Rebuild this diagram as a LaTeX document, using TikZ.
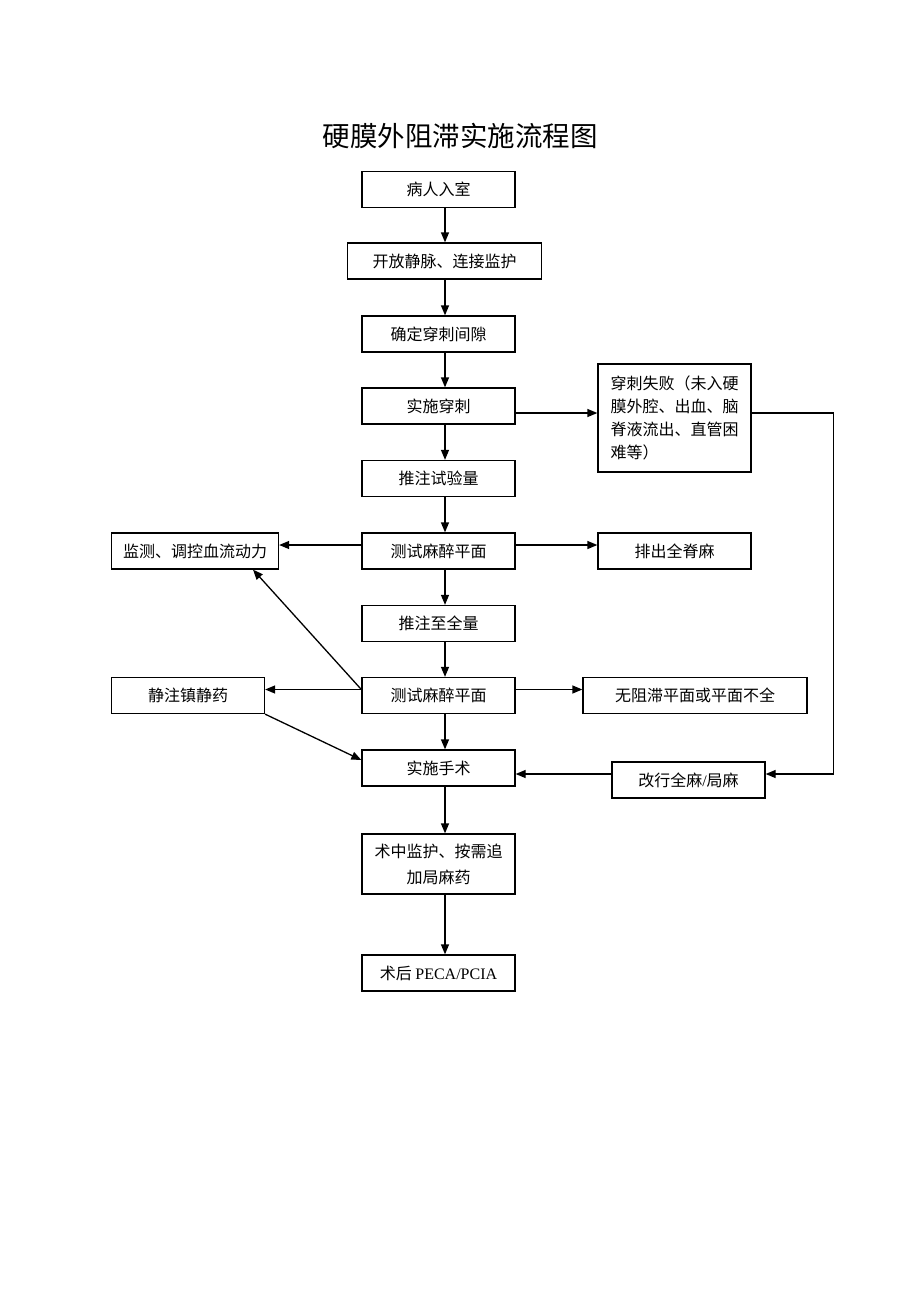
\documentclass[tikz,border=0pt]{standalone}
\usepackage{fontspec}
\setmainfont{Liberation Serif}
\newfontfamily\cjk{Noto Sans CJK SC}
\usetikzlibrary{arrows.meta}

\begin{document}
\begin{tikzpicture}[x=1pt,y=-1pt,
        box/.style={draw,line width=1.3pt,minimum width=153pt,minimum height=36pt,inner sep=0pt,
          font=\cjk\fontsize{16}{22}\selectfont},
        arr/.style={-{Triangle[length=10pt,width=8pt]},line width=1.3pt}]
        \useasboundingbox (0,0) rectangle (920,1302);
        \node (title) at (460,136) {\cjk\fontsize{27.5}{30}\selectfont 硬膜外阻滞实施流程图};
        % main column
        \node[box] (start) at (438.5,189.5) {病人入室};
        \node[box,minimum width=194pt] (iv) at (444.5,261) {开放静脉、连接监护};
        \node[box] (gap) at (438.5,334) {确定穿刺间隙};
        \node[box] (punct) at (438.5,406) {实施穿刺};
        \node[box] (test) at (438.5,478.5) {推注试验量};
        \node[box] (lvl1) at (438.5,551) {测试麻醉平面};
        \node[box] (full) at (438.5,623.5) {推注至全量};
        \node[box] (lvl2) at (438.5,695.5) {测试麻醉平面};
        \node[box] (surg) at (438.5,768) {实施手术};
        \node[box,minimum height=60pt,align=center,font=\cjk\fontsize{16}{26}\selectfont] (intra) at (438.5,864) {术中监护、按需追\\加局麻药};
        \node[box] (post) at (438.5,973) {术后 {\rmfamily PECA/PCIA}};
        % side boxes
        \node[box,minimum height=108pt,align=left,font=\cjk\fontsize{16}{23}\selectfont] (fail) at (674.5,418) {穿刺失败（未入硬\\膜外腔、出血、脑\\脊液流出、直管困\\难等）};
        \node[box,minimum width=167pt] (mon) at (195,551) {监测、调控血流动力};
        \node[box] (spinal) at (674.5,551) {排出全脊麻};
        \node[box] (sed) at (188,695.5) {静注镇静药};
        \node[box,minimum width=224pt] (nobl) at (695,695.5) {无阻滞平面或平面不全};
        \node[box] (alt) at (688.5,780) {改行全麻{\rmfamily /}局麻};
        \coordinate (ax) at (445,0);
        \foreach \a/\b in {start/iv,iv/gap,gap/punct,punct/test,test/lvl1,lvl1/full,full/lvl2,lvl2/surg,surg/intra,intra/post}
          \draw[arr] (\a.south -| ax) -- (\b.north -| ax);
        \draw[arr] ([yshift=-7pt]punct.east) -- ([yshift=-7pt]punct.east -| fail.west);
        \draw[arr] ([yshift=5pt]fail.east) -| ([xshift=68pt,yshift=6pt]alt.east) -- ([yshift=6pt]alt.east);
        \draw[arr] ([yshift=6pt]alt.west) -- ([yshift=6pt]alt.west -| surg.east);
        \draw[arr] ([yshift=6pt]lvl1.west) -- ([yshift=6pt]mon.east);
        \draw[arr] ([yshift=6pt]lvl1.east) -- ([yshift=6pt]spinal.west);
        \draw[arr] ([yshift=6pt]lvl2.west) -- ([yshift=6pt]sed.east);
        \draw[arr] ([yshift=6pt]lvl2.east) -- ([yshift=6pt]nobl.west);
        \draw[arr] ([yshift=6pt]lvl2.west) -- ([xshift=58pt]mon.south);
        \draw[arr] (sed.south east) -- ([yshift=8pt]surg.west);
\end{tikzpicture}
\end{document}
